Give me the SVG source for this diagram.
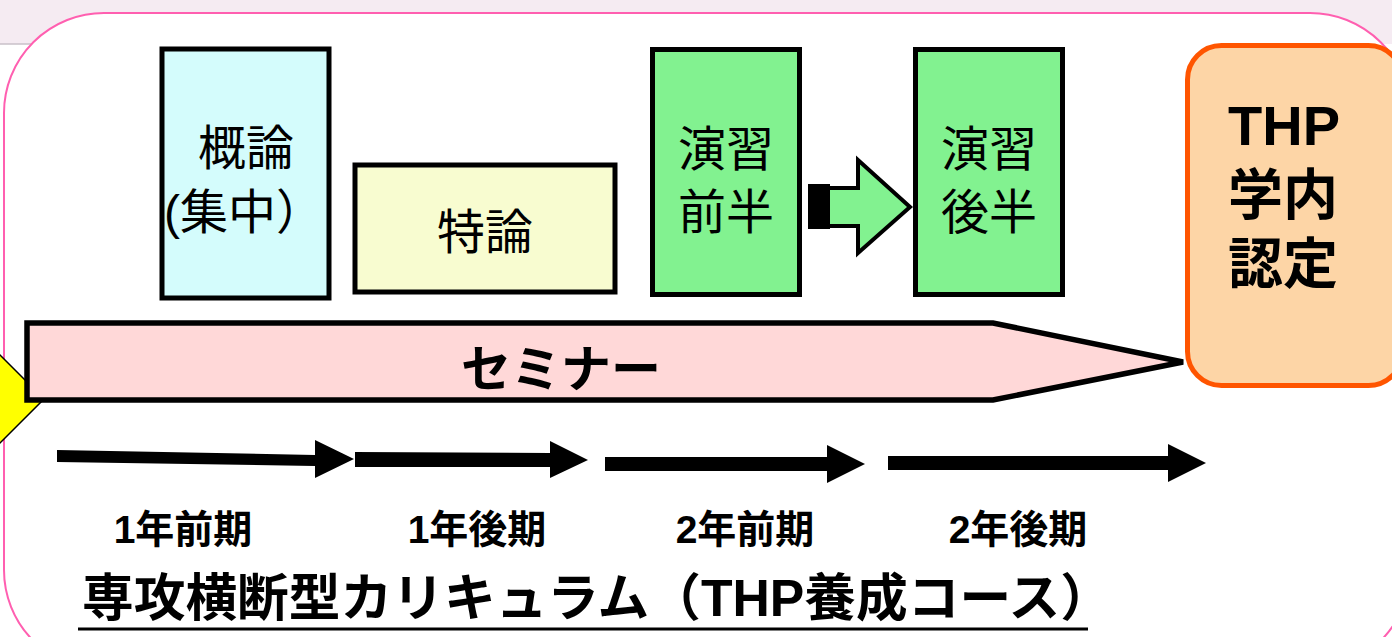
<svg xmlns="http://www.w3.org/2000/svg" width="1392" height="637" viewBox="0 0 1392 637">
<style>
.jp{font-family:"Liberation Sans","Noto Sans CJK JP",sans-serif;fill:#000}
.box{stroke:#000;stroke-width:5}
.bt{font-size:48px;text-anchor:middle}
.lbl{font-size:39px;font-weight:bold;text-anchor:middle}
.arr{fill:#000}
</style>
<rect x="0" y="0" width="1392" height="44" fill="#f5ebf2"/>
<line x1="0" y1="44" x2="60" y2="44" stroke="#c8c0c8" stroke-width="1.5"/>
<rect x="4" y="13" width="1406" height="657" rx="100" ry="100" fill="#fff" stroke="#ff5fb0" stroke-width="2"/>

<g id="start-marker">
<polygon points="-44,399 0,355 44,399 0,443" fill="#ffff00" stroke="#000" stroke-width="1.5"/>
</g>

<g id="node-gairon">
<rect class="box" x="162" y="49" width="167" height="249" fill="#d4fcfc" stroke-width="4"/>
<text class="jp bt" x="246" y="165">概論</text>
<text class="jp bt" x="244" y="229">(集中）</text>
</g>

<g id="node-tokuron">
<rect class="box" x="355" y="165" width="260" height="127" fill="#f8fcd0" stroke-width="6"/>
<text class="jp bt" x="485" y="249">特論</text>
</g>

<g id="node-ensyu1">
<rect class="box" x="652.5" y="49.5" width="147" height="245" fill="#82f290"/>
<text class="jp bt" x="726" y="166">演習</text>
<text class="jp bt" x="726" y="229">前半</text>
</g>

<g id="node-ensyu2">
<rect class="box" x="915.5" y="49.5" width="147" height="245" fill="#82f290"/>
<text class="jp bt" x="989" y="166">演習</text>
<text class="jp bt" x="989" y="229">後半</text>
</g>

<g id="node-seminar">
<polygon points="27,323 993,323 1183,362 993,400 27,400" fill="#ffd8d8" stroke="#000" stroke-width="5.5" stroke-linejoin="miter"/>
<text class="jp" x="561" y="387" font-size="50" font-weight="bold" text-anchor="middle">セミナー</text>
</g>

<g id="node-thp">
<rect x="1187.5" y="45.5" width="215" height="340" rx="34" ry="34" fill="#fdd5a6" stroke="#ff5500" stroke-width="5"/>
<text class="jp" x="1284" y="145" font-size="56" font-weight="bold" text-anchor="middle">THP</text>
<text class="jp" x="1283" y="214" font-size="55" font-weight="bold" text-anchor="middle">学内</text>
<text class="jp" x="1283" y="283" font-size="55" font-weight="bold" text-anchor="middle">認定</text>
</g>

<g id="connectors">
<rect x="808" y="184" width="22" height="45" fill="#000"/>
<polygon points="828,188 858,188 858,160 910,207 858,253 858,226 828,226" fill="#82f290" stroke="#000" stroke-width="4" stroke-linejoin="miter"/>
<polygon class="arr" points="57,450 315,455 315,440 354,459 315,478 315,466 57,462"/>
<polygon class="arr" points="355,452 550,453 550,441 588,460 550,478 550,467 355,467"/>
<polygon class="arr" points="605,457 827,457 827,445 865,464 827,483 827,471 605,471"/>
<polygon class="arr" points="888,456 1168,456 1168,444 1206,463 1168,482 1168,470 888,470"/>
</g>

<g id="labels">
<text class="jp lbl" x="183" y="543">1年前期</text>
<text class="jp lbl" x="477" y="543">1年後期</text>
<text class="jp lbl" x="745" y="543">2年前期</text>
<text class="jp lbl" x="1018" y="543">2年後期</text>
</g>

<g id="title">
<text class="jp" x="82" y="616" font-size="51" font-weight="bold" textLength="1030" lengthAdjust="spacingAndGlyphs">専攻横断型カリキュラム（THP養成コース）</text>
<line x1="78" y1="629" x2="1088" y2="629" stroke="#000" stroke-width="3"/>
</g>
</svg>
